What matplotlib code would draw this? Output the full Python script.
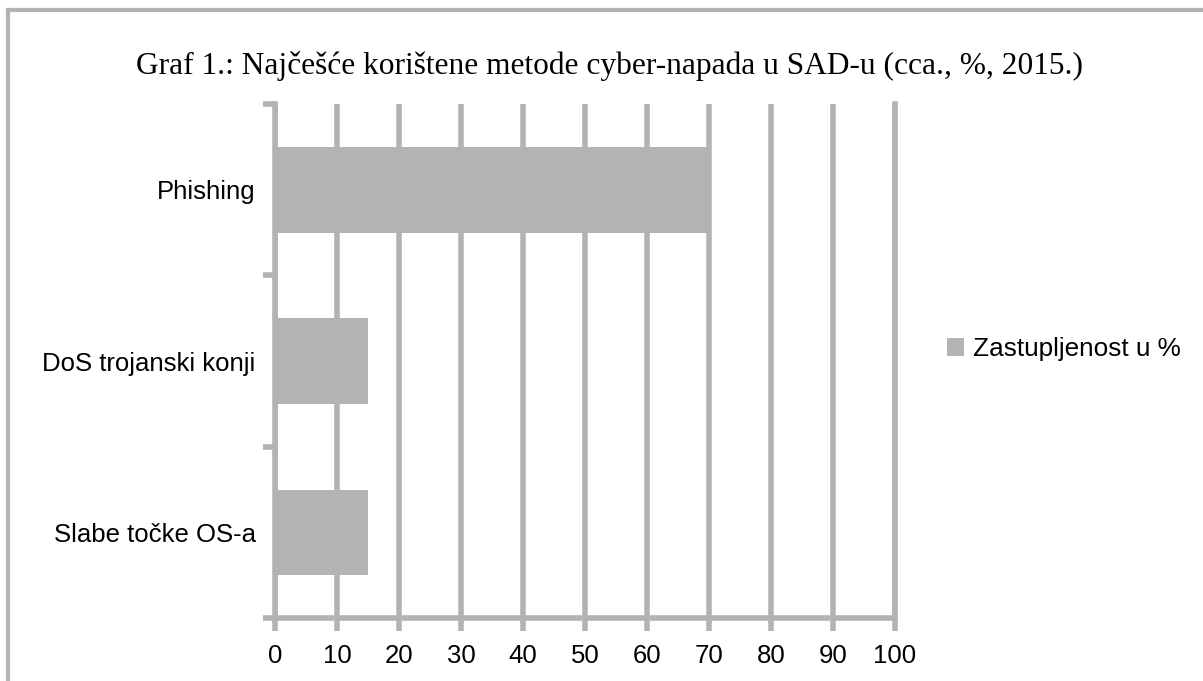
import matplotlib
matplotlib.use("Agg")
from matplotlib import pyplot as plt
from matplotlib.lines import Line2D

categories = ["Phishing", "DoS trojanski konji", "Slabe točke OS-a"]
values = [70, 15, 15]
series_name = "Zastupljenost u %"
title = "Graf 1.: Najčešće korištene metode cyber-napada u SAD-u (cca., %, 2015.)"

GRAY = "#b3b3b3"
W, H = 1203, 681

fig = plt.figure(figsize=(W / 100, H / 100), dpi=100)
ax = fig.add_axes([275 / W, 1 - 618 / H, (895 - 275) / W, (618 - 104) / H])

# categories from top to bottom
pos = list(range(len(categories)))[::-1]
bars = ax.barh(pos, values, height=0.5, color=GRAY, label=series_name, zorder=3)

ax.set_xlim(0, 100)
ax.set_ylim(-0.5, len(categories) - 0.5)
ax.set_xticks(range(0, 101, 10))
ax.grid(axis="x", color=GRAY, linewidth=4, zorder=1)
ax.set_axisbelow(True)

ax.set_yticks(pos)
ax.set_yticklabels(categories, fontsize=18.5, family="Liberation Sans")
ax.tick_params(axis="y", which="major", length=0, pad=14)
ax.set_yticks([i - 0.5 for i in range(len(categories) + 1)], minor=True)
ax.tick_params(axis="y", which="minor", length=9, width=4, color=GRAY, direction="out")
ax.tick_params(axis="x", length=9, width=4, color=GRAY, pad=10, labelsize=18.5)
for lab in ax.get_xticklabels():
    lab.set_family("Liberation Sans")

for side in ["left", "bottom", "right"]:
    ax.spines[side].set_color(GRAY)
    ax.spines[side].set_linewidth(4)
ax.spines["top"].set_visible(False)

fig.text(609 / W, 1 - 66 / H, title, ha="center", va="center",
         fontsize=22.6, family="Liberation Serif")

fig.legend(handles=[bars], labels=[series_name], loc="center left",
           bbox_to_anchor=(947 / W, 1 - 349 / H), frameon=False,
           prop={"family": "Liberation Sans", "size": 18.8},
           handlelength=0.65, handleheight=0.65, handletextpad=0.35,
           borderpad=0, borderaxespad=0)

# outer frame, only left and top edges are visible
fig.add_artist(Line2D([8 / W, 8 / W], [0, 1 - 10 / H], color=GRAY, linewidth=3,
                      transform=fig.transFigure))
fig.add_artist(Line2D([8 / W, 1], [1 - 10 / H, 1 - 10 / H], color=GRAY, linewidth=3,
                      transform=fig.transFigure))

fig.savefig("out.png", dpi=100)
plt.close("all")
